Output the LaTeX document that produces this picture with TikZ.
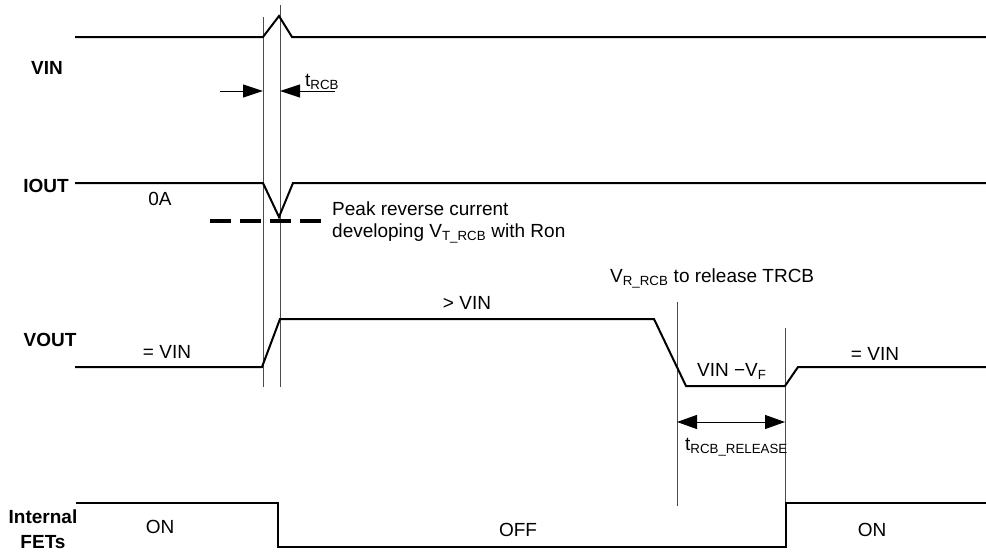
\documentclass[tikz,border=0pt]{standalone}
\usepackage{fontspec}
\setmainfont{Liberation Sans}
\usetikzlibrary{arrows.meta}
\tikzset{
  wave/.style={line width=2pt,line join=miter},
  marker/.style={line width=1pt,draw=black!70},
  dimarrow/.style={line width=1pt,-{Triangle[length=20pt,width=13pt]}},
  dimboth/.style={line width=1pt,{Triangle[length=20pt,width=14pt]}-{Triangle[length=20pt,width=14pt]}},
  peakline/.style={line width=4pt,dash pattern=on 21pt off 9pt},
  siglabel/.style={font=\bfseries\fontsize{19}{25}\selectfont,inner sep=0pt,align=center},
  note/.style={font=\fontsize{19}{22}\selectfont,inner sep=0pt}
}

\begin{document}
\begin{tikzpicture}[x=1pt,y=-1pt]
\useasboundingbox (0,0) rectangle (986,554);

% signal names
\node[siglabel] (vinlbl) at (47,68) {VIN};
\node[siglabel] (ioutlbl) at (46,186) {IOUT};
\node[siglabel] (voutlbl) at (50,340) {VOUT};
\node[siglabel] (fetlbl) at (43,529) {Internal\\FETs};

% marker lines
\coordinate (ma) at (263,17);
\coordinate (mb) at (280,5);
\coordinate (mc) at (677,302);
\coordinate (md) at (785,328);
\draw[marker] (ma) -- (263,387);
\draw[marker] (mb) -- (280,387);
\draw[marker] (mc) -- (677,506);
\draw[marker] (md) -- (785,503);

% waveforms
\draw[wave] (75,37) -- (263,37) -- (279,16) -- (292,37) -- (986,37);
\draw[wave] (75,183) -- (263,183) -- (279,217) -- (293,183) -- (986,183);
\draw[wave] (75,367) -- (262,367) -- (280,319) -- (654,319) -- (686,386)
  -- (785,386) -- (798,367) -- (986,367);
\draw[wave] (76,503) -- (278,503) -- (278,547) -- (786,547) -- (786,503) -- (986,503);
\draw[peakline] (210,221) -- (322,221);

% timing arrows
\coordinate (tl) at (220,91);
\coordinate (tr) at (335,91);
\draw[dimarrow] (tl) -- (263,91);
\draw[dimarrow] (tr) -- (280,91);
\draw[dimboth] (677,422) -- (785,422);

% annotations
\node[note,anchor=base west] (trcb) at (305,86) {t\textsubscript{RCB}};
\node[note] (zeroa) at (160,199) {0A};
\node[note,anchor=base west] (peak1) at (332,215) {Peak reverse current};
\node[note,anchor=base west] (peak2) at (332,237) {developing V\textsubscript{T\_RCB} with Ron};
\node[note] (gtvin) at (467,303) {> VIN};
\node[note] (eqvina) at (167,352) {= VIN};
\node[note] (eqvinb) at (875,354) {= VIN};
\node[note,anchor=base west] (vrrcb) at (610,282) {V\textsubscript{R\_RCB} to release TRCB};
\node[note,anchor=base west] (vinvf) at (697,376) {VIN −V\textsubscript{F}};
\node[note,anchor=base west] (trel) at (685,450) {t\textsubscript{RCB\_RELEASE}};
\node[note] (ona) at (160,527) {ON};
\node[note] (off) at (518,530) {OFF};
\node[note] (onb) at (872,530) {ON};
\end{tikzpicture}
\end{document}
